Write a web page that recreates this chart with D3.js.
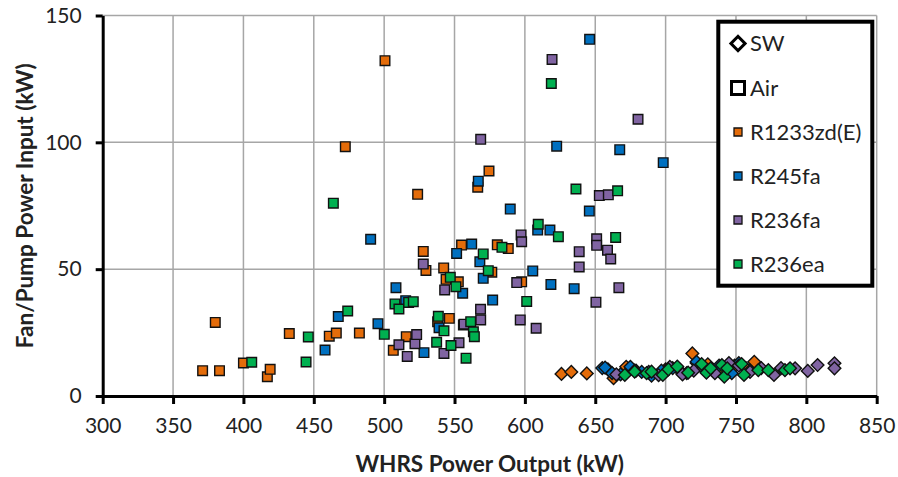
<!DOCTYPE html>
<html lang='en'>
<head>
  <meta charset='UTF-8'>
  <title>WHRS fan/pump power</title>
  <style>
    body { margin: 0; background: #fff; }
    text { font-family: Lato, 'Open Sans', sans-serif; fill: #222; }
  </style>
</head>
<body>
<div id='chart'></div>
<script src='https://d3js.org/d3.v7.min.js'></script>
<script>
  // refrigerants, colours and legend labels
  var fluids = ['R1233zd(E)', 'R245fa', 'R236fa', 'R236ea']
  var colors = ['#E46C0A', '#0070C0', '#8064A2', '#00B050']
  var xTicks = [300, 350, 400, 450, 500, 550, 600, 650, 700, 750, 800, 850]
  var yTicks = [0, 50, 100, 150]

  // air-cooled condenser points [WHRS output kW, fan power kW]
  var airR1233 = [[371, 10], [380, 29], [383, 10], [400, 13], [417, 7.6], [419, 10.5], [432.6, 24.6],
    [461, 23.6], [466, 24.8], [472.4, 98.3], [482.4, 24.8], [500.6, 132.2], [506.5, 18], [515.7, 23.4],
    [523.8, 79.5], [527.8, 57], [529.7, 49.5], [538, 29.3], [542.3, 50.5], [544, 46], [546.3, 30.6],
    [552.7, 45], [555, 59.5], [566.5, 82.3], [574.5, 88.7], [576.5, 48.8], [580.4, 59.6], [588.2, 58.1],
    [597.7, 45]]
  var airR245 = [[458, 18.1], [467.4, 31.3], [490.4, 61.8], [495.6, 28.5], [508.4, 42.7], [515.3, 37.6],
    [528.3, 17.1], [539, 26.9], [551.5, 56.2], [555.8, 40.5], [556.3, 28], [562.2, 59.9], [566.9, 84.7],
    [568, 52.9], [570.4, 46.4], [577.1, 37.8], [589.6, 73.7], [605.6, 49.3], [609.1, 65.4], [617.8, 65.4],
    [618.5, 44], [622.6, 98.5], [635, 42.3], [645.8, 72.9], [646, 140.6], [667.4, 97.1], [698.3, 92]]
  var airR236fa = [[510.5, 20.2], [516.4, 15.6], [521.9, 20.6], [523.1, 24.2], [527.8, 52], [542.5, 16.8],
    [543, 41.8], [553.2, 21], [556.8, 28.3], [568.5, 34.2], [568.6, 30], [568.6, 101.2], [594.2, 44.7],
    [596.7, 30], [597.3, 63.5], [597.7, 60.8], [608, 26.7], [619.3, 132.7], [638.6, 56.9], [638.6, 50.9],
    [650.5, 37], [651, 62], [651, 59.4], [652.9, 79], [658.7, 57.5], [659.3, 79.3], [661, 54],
    [666.8, 42.7], [680.4, 109.1]]
  var airR236ea = [[405.9, 13.3], [444.5, 13.4], [446.1, 23.3], [463.9, 76], [474.1, 33.5], [500.1, 24.3],
    [507.7, 36.3], [510.5, 34.3], [517.4, 36.9], [520.7, 37.2], [537.3, 21.2], [538.5, 31.4], [542.5, 25.7],
    [547, 46.8], [547.5, 19.9], [551, 43.1], [558.2, 14.9], [561.5, 29.3], [563.4, 25.3], [564.1, 23.4],
    [570.4, 56], [574, 49.4], [583.7, 58.6], [601.3, 37.3], [609.5, 67.7], [618.8, 123.2], [623.8, 62.8],
    [636.3, 81.6], [664.5, 62.5], [665.9, 80.9]]

  // sea-water cooled points
  var swR1233 = [[626, 8.7], [633, 9.5], [644, 8.9], [659, 10.5], [663, 7], [672, 11.5], [679, 10],
    [690, 9], [700, 10.5], [711, 9.5], [719, 16.8], [722, 13], [730, 12.5], [740, 11], [749, 12],
    [757, 11], [763, 13.5]]
  var swR245 = [[655, 11], [657, 11.2], [662, 9], [668, 8.5], [675, 11.5], [683, 9.5], [690, 8],
    [697, 10], [705, 11], [715, 9], [722, 13.5], [730, 10], [738, 12], [747, 9], [752, 13], [760, 10]]
  var swR236fa = [[665, 8.5], [678, 10], [688, 9.5], [695, 8.2], [703, 11.5], [712, 8.5], [720, 10],
    [727, 11], [735, 9], [745, 13], [752, 12], [760, 9.5], [768, 11], [777, 8.3], [782, 11], [792, 10.9],
    [801, 9.9], [808, 12.2], [820, 12.9], [820, 10.9]]
  var swR236ea = [[671, 8.3], [678, 9.6], [686.5, 9], [690, 9.6], [698, 8.3], [702, 10.5], [708.3, 11.6],
    [716, 9.2], [725.6, 12.6], [729, 9.2], [732, 10.9], [740, 12.2], [741.7, 7.6], [743.8, 10.9],
    [754, 12.6], [755.7, 8.3], [765.9, 10.2], [773, 10.2], [784.8, 10.2], [788.4, 10.9]]

  var airSets = [airR1233, airR245, airR236fa, airR236ea]
  var swSets = [swR1233, swR245, swR236fa, swR236ea]

  var W = 898, H = 477
  var pL = 102.7, pR = 876.7, pT = 15.5, pB = 396   // plot area edges

  var svg = d3.select('#chart').append('svg')
    .attr('width', W)
    .attr('height', H)

  var x = d3.scaleLinear().domain([300, 850]).range([pL, pR])
  var y = d3.scaleLinear().domain([0, 150]).range([pB, pT])

  // gridlines
  var grid = svg.append('g').attr('stroke', '#A6A6A6').attr('stroke-width', 1.5)
  grid.selectAll('.vg').data(xTicks.slice(1)).join('line')
    .attr('x1', d => x(d)).attr('x2', d => x(d))
    .attr('y1', pT).attr('y2', pB)
  grid.selectAll('.hg').data(yTicks.slice(1)).join('line')
    .attr('x1', pL).attr('x2', pR)
    .attr('y1', d => y(d)).attr('y2', d => y(d))

  // axes
  var xAxis = svg.append('g')
    .attr('transform', 'translate(0,' + pB + ')')
    .call(d3.axisBottom(x).tickValues(xTicks).tickSize(8).tickPadding(14).tickSizeOuter(0))
  var yAxis = svg.append('g')
    .attr('transform', 'translate(' + pL + ',0)')
    .call(d3.axisLeft(y).tickValues(yTicks).tickSize(7).tickPadding(14).tickSizeOuter(0))
  ;[xAxis, yAxis].forEach(function (a) {
    a.select('.domain').attr('stroke', '#000').attr('stroke-width', 3)
    a.selectAll('.tick line').attr('stroke', '#000').attr('stroke-width', 3)
    a.selectAll('.tick text').attr('font-family', 'Lato, sans-serif').attr('font-size', 21).attr('fill', '#222')
  })

  // markers
  var square = d3.symbol().type(d3.symbolSquare).size(92)
  var diamond = d3.symbol().type(d3.symbolSquare).size(80)

  fluids.forEach(function (f, i) {
    svg.append('g').selectAll('path').data(airSets[i]).join('path')
      .attr('d', square)
      .attr('transform', d => 'translate(' + x(d[0]) + ',' + y(d[1]) + ')')
      .attr('fill', colors[i]).attr('stroke', '#111').attr('stroke-width', 1.4)
  })
  fluids.forEach(function (f, i) {
    svg.append('g').selectAll('path').data(swSets[i]).join('path')
      .attr('d', diamond)
      .attr('transform', d => 'translate(' + x(d[0]) + ',' + y(d[1]) + ') rotate(45)')
      .attr('fill', colors[i]).attr('stroke', '#111').attr('stroke-width', 1.4)
  })

  // axis titles
  svg.append('text')
    .attr('x', (pL + pR) / 2).attr('y', 472)
    .attr('text-anchor', 'middle')
    .attr('font-weight', 'bold').attr('font-size', 22.5)
    .text('WHRS Power Output (kW)')
  svg.append('text')
    .attr('transform', 'translate(33,' + (pT + pB) / 2 + ') rotate(-90)')
    .attr('text-anchor', 'middle')
    .attr('font-weight', 'bold').attr('font-size', 22.5)
    .text('Fan/Pump Power Input (kW)')

  // legend
  var lg = svg.append('g')
  lg.append('rect')
    .attr('x', 718.3).attr('y', 21.7).attr('width', 154).attr('height', 264)
    .attr('fill', '#fff').attr('stroke', '#000').attr('stroke-width', 4)
  var items = ['SW', 'Air'].concat(fluids)
  var rowY = [43.5, 88, 132, 176, 220, 264]
  items.forEach(function (t, i) {
    var row = lg.append('g').attr('transform', 'translate(738,' + rowY[i] + ')')
    if (i === 0) {
      row.append('path').attr('d', d3.symbol().type(d3.symbolSquare).size(100))
        .attr('transform', 'rotate(45)')
        .attr('fill', '#fff').attr('stroke', '#000').attr('stroke-width', 3)
    } else if (i === 1) {
      row.append('path').attr('d', d3.symbol().type(d3.symbolSquare).size(169))
        .attr('fill', '#fff').attr('stroke', '#000').attr('stroke-width', 3)
    } else {
      row.append('path').attr('d', d3.symbol().type(d3.symbolSquare).size(64))
        .attr('fill', colors[i - 2]).attr('stroke', '#111').attr('stroke-width', 1.3)
    }
    row.append('text')
      .attr('x', 12).attr('dy', '0.36em')
      .attr('font-size', 22)
      .text(t)
  })
</script>
</body>
</html>
